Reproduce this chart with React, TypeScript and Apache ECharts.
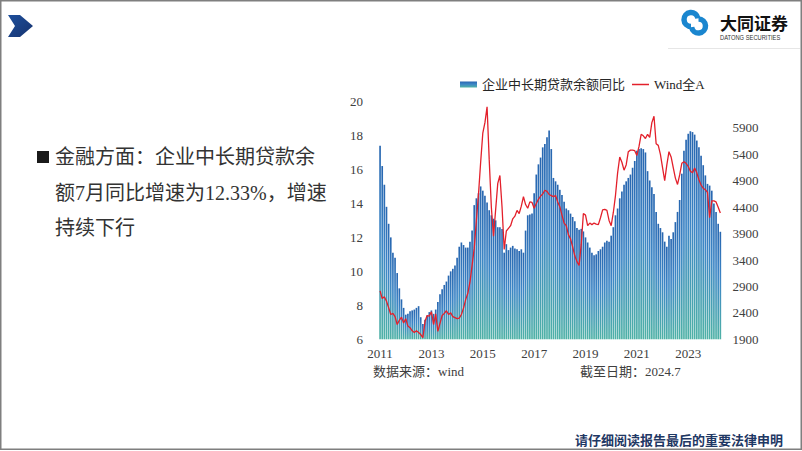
import React, { useEffect, useRef } from "react";
import * as echarts from "echarts";

// ---------- data ----------
const startYear = 2011;
const startMonth = 4; // first bar: 2011-04, last bar: 2024-07

// 企业中长期贷款余额同比 (%)
const loanGrowth = [
  17.4, 16.2, 15.1, 13.8, 12.8, 12.0, 11.1, 10.8, 9.9, 9.0,
  8.35, 7.85, 7.45, 7.5, 7.65, 7.7, 7.75, 7.85, 7.95, 7.3,
  6.9, 7.15, 7.4, 7.6, 7.7, 7.5, 7.75, 8.2, 8.65, 8.95,
  9.2, 9.4, 9.75, 10.0, 10.15, 10.35, 10.8, 11.45, 11.7, 11.55,
  11.4, 11.4, 11.75, 12.4, 13.9, 14.3, 14.6, 15.0, 14.75, 14.45,
  14.05, 13.6, 13.3, 13.1, 13.0, 12.6, 12.6, 12.5, 11.1, 11.6,
  11.25, 11.4, 11.5, 11.35, 11.3, 11.2, 11.3, 11.1, 12.4, 13.3,
  13.35, 13.4, 14.6, 15.7, 16.3, 16.7, 17.3, 17.5, 17.9, 18.3,
  17.2, 15.5, 15.3, 15.1, 14.8, 14.5, 14.1, 13.7, 13.6, 13.4,
  13.2, 12.95, 12.55, 12.45, 12.5, 12.35, 12.0, 11.7, 11.4, 11.1,
  10.95, 11.0, 11.2, 11.3, 11.45, 11.7, 11.8, 11.75, 12.1, 12.6,
  13.3, 13.7, 14.3, 14.7, 15.1, 15.3, 15.5, 15.7, 16.1, 16.5,
  17.1, 17.2, 17.25, 17.2, 17.0, 15.9, 15.35, 14.95, 14.55, 13.5,
  12.8, 12.55, 12.3, 11.75, 11.45, 12.1, 11.9, 12.3, 12.9, 13.5,
  14.2, 15.75, 17.1, 17.75, 18.1, 18.25, 18.2, 18.05, 17.7, 17.3,
  16.8, 16.25, 15.65, 15.15, 15.05, 14.75, 14.0, 13.5, 12.8, 12.33,
];

// Wind全A
const windA = [
  2815, 2670, 2707, 2620, 2500, 2370, 2390, 2330, 2180, 2260,
  2320, 2210, 2290, 2150, 2120, 2060, 2030, 2060, 2030, 1990,
  1930, 2240, 2350, 2340, 2420, 2180, 2380, 2050, 2200, 2350,
  2390, 2440, 2370, 2400, 2330, 2310, 2290, 2300, 2370, 2490,
  2650, 2770, 2980, 3300, 3620, 4150, 4650, 5250, 5800, 6000,
  6300, 5300, 4400, 3850, 4350, 4850, 5000, 4400, 3600, 3950,
  4000, 4050, 4180, 4230, 4340, 4280, 4420, 4600, 4450, 4380,
  4500, 4490, 4380, 4470, 4550, 4610, 4650, 4720, 4700, 4640,
  4620, 4600, 4620, 4500, 4410, 4250, 4100, 4050, 3880, 3800,
  3650, 3480, 3370, 3300, 3700, 4280, 4250, 4050, 4100, 4070,
  4100, 4080, 4070, 4200, 4350, 4360, 4340, 4150, 4050, 4300,
  4620, 5050, 5350, 5250, 5100, 5200, 5450, 5480, 5480, 5470,
  5380, 5550, 5780, 5750, 5700, 5780, 5720, 6000, 6120, 5600,
  5570, 5400, 5150, 4900, 5200, 5450, 5350, 5150, 4950, 4830,
  5010, 5230, 5260, 5230, 5170, 5080, 5050, 5140, 5050, 4920,
  4820, 4760, 4730, 4680, 4200, 4520, 4520, 4500, 4400, 4290,
];

const rightTicks = [1900, 2400, 2900, 3400, 3900, 4400, 4900, 5400, 5900];

const months = loanGrowth.map((_, i) => {
  const m = startMonth - 1 + i;
  return `${startYear + Math.floor(m / 12)}-${String((m % 12) + 1).padStart(2, "0")}`;
});

const SERIF = "'Liberation Serif', 'Noto Sans CJK SC', serif";
const SANS = "'Noto Sans CJK SC', 'Noto Sans', sans-serif";
const BAR_NAME = "企业中长期贷款余额同比";
const LINE_NAME = "Wind全A";
const RED = "#E3202B";

export default function App() {
  const ref = useRef<HTMLDivElement>(null);

  useEffect(() => {
    const chart = echarts.init(ref.current!, null, { renderer: "svg" });

    const barGradient = new echarts.graphic.LinearGradient(0, 0, 0, 1, [
      { offset: 0, color: "#2766B0" },
      { offset: 0.45, color: "#3D86C6" },
      { offset: 1, color: "#4FB2A6" },
    ]);

    const option: any = {
      animation: false,
      backgroundColor: "#ffffff",
      legend: [
        {
          left: 455,
          top: 73,
          itemWidth: 17,
          itemHeight: 6,
          textStyle: { fontSize: 13, color: "#262626", fontFamily: SERIF },
          data: [{ name: BAR_NAME, icon: "rect" }],
        },
        {
          left: 627,
          top: 73,
          itemWidth: 17,
          itemHeight: 1.5,
          textStyle: { fontSize: 13, color: "#262626", fontFamily: SERIF },
          data: [{ name: LINE_NAME, icon: "rect" }],
        },
      ],
      grid: { left: 379, top: 101.5, width: 342.4, height: 237.8 },
      xAxis: {
        type: "category",
        data: months,
        boundaryGap: true,
        axisLine: { show: false },
        axisTick: { show: false },
        axisLabel: {
          interval: 23,
          formatter: (v: string) => v.slice(0, 4),
          fontSize: 13,
          color: "#404040",
          fontFamily: SERIF,
          margin: 8,
        },
      },
      yAxis: [
        {
          type: "value",
          min: 6,
          max: 20,
          interval: 2,
          startValue: 6,
          splitLine: { show: false },
          axisLine: { show: false },
          axisTick: { show: false },
          axisLabel: { fontSize: 13, color: "#404040", fontFamily: SERIF, margin: 16 },
        },
        {
          type: "value",
          min: 1900,
          max: 6400,
          splitLine: { show: false },
          axisLine: { show: false },
          axisTick: { show: false },
          axisLabel: {
            customValues: rightTicks,
            formatter: (v: number) => String(v),
            fontSize: 13,
            color: "#404040",
            fontFamily: SERIF,
            margin: 11,
          },
        },
      ],
      series: [
        {
          name: BAR_NAME,
          type: "bar",
          data: loanGrowth,
          barCategoryGap: "22%",
          itemStyle: { color: barGradient },
        },
        {
          name: LINE_NAME,
          type: "line",
          yAxisIndex: 1,
          data: windA,
          symbol: "none",
          lineStyle: { color: RED, width: 1.3 },
          itemStyle: { color: RED },
        },
      ],
      graphic: [
        // slide frame
        {
          type: "rect",
          shape: { x: 0.75, y: 0.75, width: 800.5, height: 448.5 },
          style: { fill: "none", stroke: "#7f7f7f", lineWidth: 1.5 },
          silent: true,
        },
        // header separator under logo
        {
          type: "line",
          shape: { x1: 668, y1: 48.5, x2: 800, y2: 48.5 },
          style: { stroke: "#e6e6e6", lineWidth: 1 },
        },
        // arrow icon
        {
          type: "polygon",
          shape: {
            points: [
              [8, 15],
              [20, 15],
              [33, 26],
              [20, 37],
              [8, 37],
              [15, 26],
            ],
          },
          style: {
            fill: new echarts.graphic.LinearGradient(0, 0, 1, 1, [
              { offset: 0, color: "#1d4f9c" },
              { offset: 1, color: "#17336e" },
            ]),
          },
        },
        // logo mark
        {
          type: "arc",
          shape: { cx: 691, cy: 19.5, r: 7, startAngle: Math.PI * 0.5, endAngle: Math.PI * 1.95, clockwise: true },
          style: { stroke: "#1a86cf", lineWidth: 5.5, fill: "none" },
        },
        {
          type: "arc",
          shape: { cx: 698.5, cy: 26, r: 7, startAngle: Math.PI * 1.5, endAngle: Math.PI * 0.95, clockwise: true },
          style: { stroke: "#1a86cf", lineWidth: 5.5, fill: "none" },
        },
        {
          type: "text",
          x: 720,
          y: 22,
          style: {
            text: "大同证券",
            fontSize: 17,
            fontWeight: "bold",
            fontFamily: SANS,
            fill: "#111111",
            verticalAlign: "middle",
          },
        },
        {
          type: "text",
          x: 720,
          y: 37.5,
          scaleX: 0.72,
          style: {
            text: "DATONG SECURITIES",
            fontSize: 8,
            fontFamily: "'Liberation Sans', sans-serif",
            fill: "#333333",
            verticalAlign: "middle",
          },
        },
        // left commentary
        {
          type: "rect",
          shape: { x: 37, y: 151, width: 12, height: 12 },
          style: { fill: "#1a1a1a" },
        },
        {
          type: "text",
          x: 55,
          y: 157,
          style: {
            text: "金融方面：企业中长期贷款余",
            fontSize: 20,
            fontFamily: SERIF,
            fill: "#333333",
            verticalAlign: "middle",
          },
        },
        {
          type: "text",
          x: 55,
          y: 193,
          style: {
            text: "额7月同比增速为12.33%，增速",
            fontSize: 20,
            fontFamily: SERIF,
            fill: "#333333",
            verticalAlign: "middle",
          },
        },
        {
          type: "text",
          x: 55,
          y: 228,
          style: {
            text: "持续下行",
            fontSize: 20,
            fontFamily: SERIF,
            fill: "#333333",
            verticalAlign: "middle",
          },
        },
        // source notes
        {
          type: "text",
          x: 373,
          y: 371,
          style: {
            text: "数据来源：wind",
            fontSize: 13,
            fontFamily: SERIF,
            fill: "#404040",
            verticalAlign: "middle",
          },
        },
        {
          type: "text",
          x: 580,
          y: 371,
          style: {
            text: "截至日期：2024.7",
            fontSize: 13,
            fontFamily: SERIF,
            fill: "#404040",
            verticalAlign: "middle",
          },
        },
        // disclaimer
        {
          type: "text",
          x: 575,
          y: 439,
          style: {
            text: "请仔细阅读报告最后的重要法律申明",
            fontSize: 13,
            fontWeight: "bold",
            fontFamily: SANS,
            fill: "#1F3864",
            verticalAlign: "middle",
          },
        },
      ],
    };

    chart.setOption(option);
    return () => chart.dispose();
  }, []);

  return (
    <div
      ref={ref}
      style={{ position: "absolute", left: 0, top: 0, width: 802, height: 451, background: "#fff" }}
    />
  );
}
